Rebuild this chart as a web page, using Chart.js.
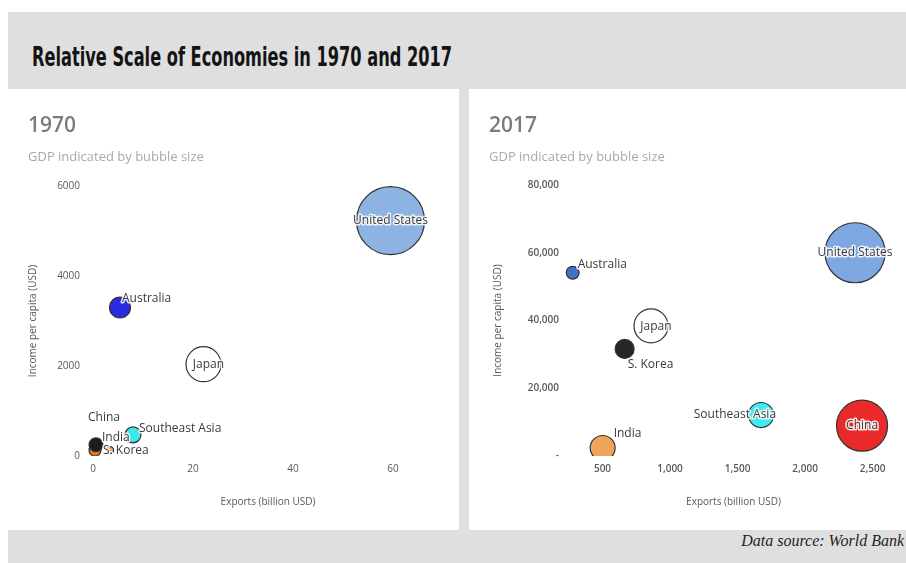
<!DOCTYPE html>
<html>
<head>
<meta charset="utf-8">
<script src="https://cdn.jsdelivr.net/npm/chart.js@4.4.1/dist/chart.umd.min.js"></script>
<style>
  body { margin:0; background:#fff; width:906px; height:563px; overflow:hidden; position:relative; font-family:"Open Sans", sans-serif; }
  #frame { position:absolute; left:8px; top:12px; width:898px; height:551px; background:#dfdfdf; }
  #title { position:absolute; left:32px; top:41px; font:bold 27px "DejaVu Sans Condensed","DejaVu Sans",sans-serif; color:#141414; transform-origin:0 0; white-space:nowrap; }
  .panel { position:absolute; top:89px; height:441px; background:#fff; }
  #p1 { left:8px; width:451px; }
  #p2 { left:469px; width:437px; }
  .head { position:absolute; left:20px; top:21px; font:600 21px "Open Sans"; color:#7b7b7b; }
  .sub { position:absolute; left:20px; top:58px; font:13px "Open Sans"; color:#a9a9a9; }
  canvas { position:absolute; left:0; top:0; }
  #source { position:absolute; right:2px; top:532px; font:italic 16px "Liberation Serif", serif; color:#1f1f1f; }
</style>
</head>
<body>
<div id="frame"></div>
<div id="title">Relative Scale of Economies in 1970 and 2017</div>
<div class="panel" id="p1">
  <canvas id="c1970" width="451" height="441"></canvas>
  <div class="head">1970</div>
  <div class="sub">GDP indicated by bubble size</div>
</div>
<div class="panel" id="p2">
  <canvas id="c2017" width="437" height="441"></canvas>
  <div class="head">2017</div>
  <div class="sub">GDP indicated by bubble size</div>
</div>
<div id="source">Data source: World Bank</div>
<script>
// 1970: exports (billion USD), income per capita (USD), GDP (billion USD)
var names1970   = ['United States', 'Australia', 'Japan', 'Southeast Asia', 'India', 'S. Korea', 'China'];
var exports1970 = [59.5, 5.4, 22.1, 8.0, 0.4, 3.4, 0.6];
var income1970  = [5230, 3300, 2040, 470, 130, 130, 250];
var gdp1970     = [1073, 102, 284, 59, 33, 12, 45];
var xTicks1970  = [0, 20, 40, 60];
var yTicks1970  = [0, 2000, 4000, 6000];

// 2017
var names2017   = ['United States', 'China', 'Japan', 'Southeast Asia', 'India', 'S. Korea', 'Australia'];
var exports2017 = [2370, 2422, 859, 1674, 501, 664, 279];
var income2017  = [60000, 8950, 38400, 12100, 2350, 31600, 54100];
var gdp2017     = [19500, 14100, 6250, 3400, 3400, 1950, 900];
var xTicks2017  = [500, 1000, 1500, 2000, 2500];
var yTicks2017  = [0, 20000, 40000, 60000, 80000];

var colors1970 = ['#8db3e2', '#2b2be0', '#ffffff', '#3ee8ea', '#e8781e', '#f4a65c', '#1c1c1c'];
var colors2017 = ['#7fa8e3', '#ea2a2a', '#ffffff', '#3fe9ec', '#f0a45a', '#262626', '#4270c4'];

// label offsets from bubble centre: [dx, dy, align]
var offsets1970 = [[0, 0, 'center'], [2, -9, 'left'], [5, 0, 'center'], [6, -6, 'left'], [7, -13, 'left'], [-7, 0, 'left'], [-8, -27, 'left']];
var offsets2017 = [[0, 0, 'center'], [0, 0, 'center'], [5, 1, 'center'], [15, 0, 'right'], [11, -14, 'left'], [3, 16, 'left'], [5, -8, 'left']];

function makeLabels(names, offsets) {
  return {
    id: 'bubbleLabels',
    afterDatasetsDraw: function (chart) {
      var ctx = chart.ctx;
      var pts = chart.getDatasetMeta(0).data;
      ctx.save();
      ctx.font = '12px "Open Sans"';
      ctx.textBaseline = 'middle';
      ctx.lineJoin = 'round';
      names.forEach(function (name, i) {
        var x = pts[i].x + offsets[i][0], y = pts[i].y + offsets[i][1];
        ctx.textAlign = offsets[i][2];
        ctx.strokeStyle = 'rgba(255,255,255,0.85)';
        ctx.lineWidth = 3;
        ctx.strokeText(name, x, y);
        ctx.fillStyle = '#3a3a3a';
        ctx.fillText(name, x, y);
      });
      ctx.restore();
    }
  };
}

function bubbleChart(id, s) {
  var maxGdp = Math.max.apply(null, s.gdp);
  var points = s.x.map(function (v, i) {
    return { x: v, y: s.y[i], r: s.maxR * Math.sqrt(s.gdp[i] / maxGdp) };
  });
  var axisFont = { family: 'Open Sans', size: 10 };
  var tickFont = { family: 'Open Sans', size: 10, weight: s.tickWeight };
  return new Chart(document.getElementById(id), {
    type: 'bubble',
    data: {
      datasets: [{
        data: points,
        backgroundColor: s.colors,
        borderColor: '#333',
        borderWidth: 1.2,
        clip: { left: false, top: false, right: false, bottom: 0 }
      }]
    },
    options: {
      responsive: false,
      animation: false,
      events: [],
      layout: { padding: s.padding, autoPadding: false },
      plugins: { legend: { display: false }, tooltip: { enabled: false } },
      scales: {
        x: {
          type: 'linear', min: s.xMin, max: s.xMax,
          afterBuildTicks: function (sc) { sc.ticks = s.xTicks.map(function (v) { return { value: v }; }); },
          afterFit: function (sc) { sc.height = 52; },
          grid: { display: false, drawTicks: false },
          border: { display: false },
          ticks: { padding: 7, font: tickFont, color: '#595959', maxRotation: 0, autoSkip: false, callback: s.xFormat },
          title: { display: true, text: 'Exports (billion USD)', padding: 0, font: axisFont, color: '#595959' }
        },
        y: {
          type: 'linear', min: s.yMin, max: s.yMax,
          afterBuildTicks: function (sc) { sc.ticks = s.yTicks.map(function (v) { return { value: v }; }); },
          afterFit: function (sc) { sc.width = s.yWidth; },
          grid: { display: false, drawTicks: false },
          border: { display: false },
          ticks: { padding: s.yPad, font: tickFont, color: '#595959', autoSkip: false, callback: s.yFormat },
          title: { display: true, text: 'Income per capita (USD)', padding: 0, font: axisFont, color: '#595959' }
        }
      }
    },
    plugins: [makeLabels(s.names, s.offsets)]
  });
}

var plain = function (v) { return String(v); };
var comma = function (v) { return v === 0 ? '-' : v.toLocaleString('en-US'); };

bubbleChart('c1970', {
  names: names1970, x: exports1970, y: income1970, gdp: gdp1970, colors: colors1970, offsets: offsets1970,
  xTicks: xTicks1970, yTicks: yTicks1970, xMin: 0, xMax: 70, yMin: 0, yMax: 6000,
  maxR: 34, padding: { left: 19, right: 16, top: 97, bottom: 22 }, yWidth: 66, yPad: 13,
  tickWeight: 'normal', xFormat: plain, yFormat: plain
});

bubbleChart('c2017', {
  names: names2017, x: exports2017, y: income2017, gdp: gdp2017, colors: colors2017, offsets: offsets2017,
  xTicks: xTicks2017, yTicks: yTicks2017, xMin: 200, xMax: 2740, yMin: 0, yMax: 80000,
  maxR: 30, padding: { left: 23, right: 1, top: 96, bottom: 22 }, yWidth: 70, yPad: 3,
  tickWeight: '600', xFormat: comma, yFormat: comma
});

// squeeze the heading into a condensed look
function fitTitle() {
  var t = document.getElementById('title');
  t.style.transform = 'none';
  var w = t.getBoundingClientRect().width;
  t.style.transform = 'scaleX(' + (420 / w) + ')';
}
fitTitle();
document.fonts.ready.then(fitTitle);
</script>
</body>
</html>
